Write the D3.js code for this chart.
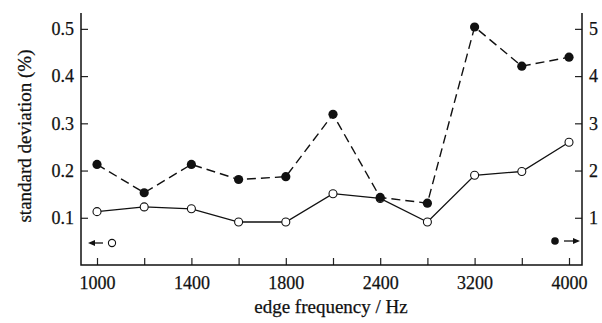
<!DOCTYPE html>
<html>
<head>
<meta charset="utf-8">
<script src="https://cdn.jsdelivr.net/npm/d3@7"></script>
<style>
body { margin: 0; background: #fff; }
</style>
</head>
<body>
<div id="chart"></div>
<script>
// edge frequency categories (equally spaced on the plot)
var freqs = [1000, 1200, 1400, 1600, 1800, 2100, 2400, 2800, 3200, 3600, 4000];
var freqLabels = [1000, 1400, 1800, 2400, 3200, 4000];
// open circles, left axis (%)
var openVals = [0.113, 0.123, 0.119, 0.091, 0.091, 0.151, 0.141, 0.091, 0.190, 0.198, 0.260];
// filled circles, right axis
var filledVals = [2.13, 1.53, 2.13, 1.81, 1.87, 3.19, 1.43, 1.31, 5.04, 4.21, 4.40];
var leftTicks = [0.1, 0.2, 0.3, 0.4, 0.5];
var rightTicks = [1, 2, 3, 4, 5];

var serif = "'Liberation Serif', 'Times New Roman', Times, serif";
var W = 602, H = 323;
var margin = {top: 13, right: 20, bottom: 58, left: 81};
var width = W - margin.left - margin.right;
var height = H - margin.top - margin.bottom;

var root = d3.select("#chart")
  .append("svg")
  .attr("width", W)
  .attr("height", H)
  .attr("font-family", serif);

var svg = root.append("g")
  .attr("transform", "translate(" + margin.left + "," + margin.top + ")");

var x = d3.scalePoint()
  .domain(freqs)
  .range([16, width - 13]);

var yL = d3.scaleLinear()
  .domain([0, 0.5336])
  .range([height, 0]);

var yR = d3.scaleLinear()
  .domain([0, 5.336])
  .range([height, 0]);

function clean(g){
  g.select(".domain").remove();
  g.attr("font-family", serif).attr("font-size", 18);
}

// axes, ticks pointing inward
svg.append("g")
  .attr("transform", "translate(0," + height + ")")
  .call(d3.axisTop(x).tickSize(7).tickFormat(""))
  .call(clean);

svg.append("g")
  .attr("transform", "translate(0," + height + ")")
  .call(d3.axisBottom(x).tickSize(0).tickPadding(11)
    .tickValues(freqLabels))
  .call(clean);

svg.append("g")
  .call(d3.axisRight(yL).tickValues(leftTicks).tickSize(7).tickFormat(""))
  .call(clean);
svg.append("g")
  .call(d3.axisLeft(yL).tickValues(leftTicks).tickSize(0).tickPadding(7).tickFormat(d3.format(".1f")))
  .call(clean);

svg.append("g")
  .attr("transform", "translate(" + width + ",0)")
  .call(d3.axisLeft(yR).tickValues(rightTicks).tickSize(7).tickFormat(""))
  .call(clean);
svg.append("g")
  .attr("transform", "translate(" + width + ",0)")
  .call(d3.axisRight(yR).tickValues(rightTicks).tickSize(0).tickPadding(7).tickFormat(d3.format("d")))
  .call(clean);

svg.selectAll(".tick line").attr("stroke", "#222").attr("stroke-width", 1.2);
svg.selectAll(".tick text").attr("fill", "#111").attr("stroke", "#111").attr("stroke-width", 0.25);

// frame: left, bottom, right
svg.append("path")
  .attr("d", "M0,0V" + height + "H" + width + "V0")
  .attr("fill", "none")
  .attr("stroke", "#111")
  .attr("stroke-width", 1.5);

// dashed series
var lineR = d3.line()
  .x(function(d, i){ return x(freqs[i]); })
  .y(function(d){ return yR(d); });
svg.append("path")
  .datum(filledVals)
  .attr("d", lineR)
  .attr("fill", "none")
  .attr("stroke", "#111")
  .attr("stroke-width", 1.4)
  .attr("stroke-dasharray", "9,5");

// solid series
var lineL = d3.line()
  .x(function(d, i){ return x(freqs[i]); })
  .y(function(d){ return yL(d); });
svg.append("path")
  .datum(openVals)
  .attr("d", lineL)
  .attr("fill", "none")
  .attr("stroke", "#111")
  .attr("stroke-width", 1.3);

svg.append("g")
  .selectAll("circle")
  .data(openVals)
  .enter()
  .append("circle")
  .attr("cx", function(d, i){ return x(freqs[i]); })
  .attr("cy", function(d){ return yL(d); })
  .attr("r", 4)
  .attr("fill", "#fff")
  .attr("stroke", "#111")
  .attr("stroke-width", 1.1);

svg.append("g")
  .selectAll("circle")
  .data(filledVals)
  .enter()
  .append("circle")
  .attr("cx", function(d, i){ return x(freqs[i]); })
  .attr("cy", function(d){ return yR(d); })
  .attr("r", 4.6)
  .attr("fill", "#111");

// axis key markers
var key = svg.append("g");
key.append("line")
  .attr("x1", 11).attr("x2", 22).attr("y1", 230).attr("y2", 230)
  .attr("stroke", "#111").attr("stroke-width", 1.3);
key.append("path")
  .attr("d", "M7,230L14,227V233Z").attr("fill", "#111");
key.append("circle")
  .attr("cx", 31).attr("cy", 230).attr("r", 3.6)
  .attr("fill", "#fff").attr("stroke", "#111").attr("stroke-width", 1.1);

key.append("circle")
  .attr("cx", width - 27).attr("cy", 228).attr("r", 3.8).attr("fill", "#111");
key.append("line")
  .attr("x1", width - 18).attr("x2", width - 8).attr("y1", 228).attr("y2", 228)
  .attr("stroke", "#111").attr("stroke-width", 1.3);
key.append("path")
  .attr("d", "M" + (width - 2) + ",228L" + (width - 9) + ",225V231Z").attr("fill", "#111");

// labels
var labels = root.append("g").attr("fill", "#111").attr("font-size", 19)
  .attr("stroke", "#111").attr("stroke-width", 0.25);
labels.append("text")
  .text("edge frequency / Hz")
  .attr("text-anchor", "middle")
  .attr("x", 331)
  .attr("y", 313);

labels.append("g")
  .attr("transform", "translate(31," + 136 + ")")
  .append("text")
  .text("standard deviation (%)")
  .attr("text-anchor", "middle")
  .attr("transform", "rotate(-90)");
</script>
</body>
</html>
